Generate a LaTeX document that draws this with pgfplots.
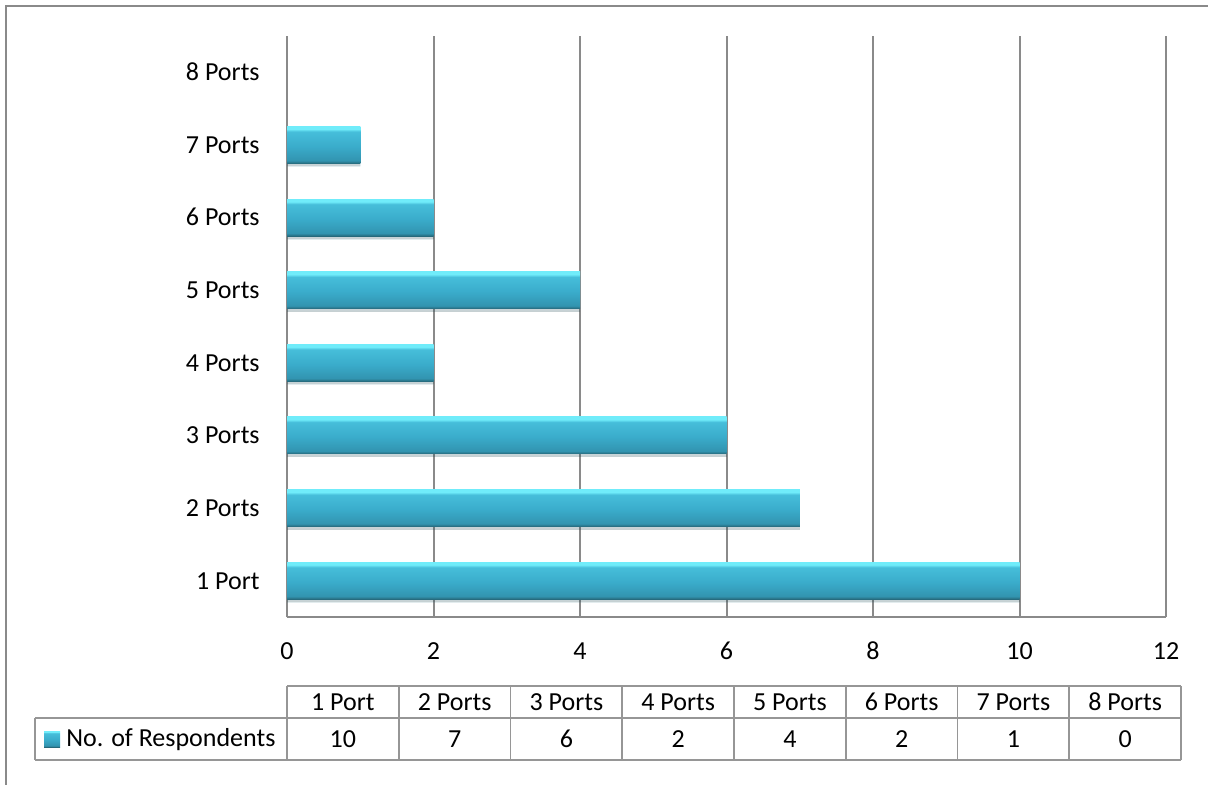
\documentclass[border=0pt]{standalone}
\usepackage{pgfplots}
\usepackage{pgfplotstable}
\usepackage{fontspec}
\setmainfont{Carlito}
\pgfplotsset{compat=1.18}

\definecolor{gridgray}{RGB}{138,138,138}
\definecolor{tablegray}{RGB}{150,150,150}
\definecolor{barlight}{RGB}{112,236,250}
\definecolor{barup}{RGB}{70,190,218}
\definecolor{barmid}{RGB}{58,172,203}
\definecolor{barlow}{RGB}{50,148,176}
\definecolor{bardark}{RGB}{38,104,122}

% bevelled cyan bar: bright top edge, darker bottom edge
% (the visible part of an axis shading runs from 25bp to 75bp)
\pgfdeclareverticalshading{barshade}{100bp}{%
  color(0bp)=(bardark); color(25bp)=(bardark); color(29bp)=(barlow);
  color(48bp)=(barmid); color(68bp)=(barup); color(71.5bp)=(barlight);
  color(100bp)=(barlight)}

\newcommand\chartfont{\fontsize{13}{15.6}\selectfont}

% number of respondents per port count
\pgfplotstableread[col sep=comma]{
idx,label,value
0,1 Port,10
1,2 Ports,7
2,3 Ports,6
3,4 Ports,2
4,5 Ports,4
5,6 Ports,2
6,7 Ports,1
7,8 Ports,0
}\portdata

\begin{document}
\begin{tikzpicture}
\useasboundingbox (0,0) rectangle (604pt,-392.5pt);
% outer frame
\draw[gridgray, line width=1pt] (3pt,-392.5pt) -- (3pt,-3pt) -- (604pt,-3pt);
\begin{axis}[
  at={(143.5pt,-308.5pt)}, anchor=south west,
  scale only axis, width=439.5pt, height=290.5pt,
  xmin=0, xmax=12, ymin=-0.5, ymax=7.5,
  xtick={0,2,...,12}, ytick={0,...,7},
  yticklabels from table={\portdata}{label},
  xmajorgrids, major grid style={gridgray, line width=1pt},
  axis x line*=bottom, axis y line*=left,
  axis line style={gridgray, line width=1pt, -},
  every outer x axis line/.append style={-},
  every outer y axis line/.append style={-},
  major tick length=0pt,
  tick label style={font=\chartfont},
  /pgf/number format/assume math mode=true,
  yticklabel style={anchor=base east, inner sep=0pt, xshift=-13.5pt, yshift=-4.2pt},
  xticklabel style={anchor=base, inner sep=0pt, yshift=-21pt},
  unbounded coords=discard,
  clip=false,
]
% one plot per row so that every bar carries its own shading
\pgfplotsinvokeforeach{0,...,7}{
  \addplot[xbar, bar shift=0pt, bar width=18.5pt, draw=none, forget plot,
    restrict y to domain=#1:#1,
    x filter/.expression={x==0 ? nan : x},
    preaction={fill=black, opacity=0.13, transform canvas={yshift=-1.5pt}},
    shading=barshade]
    table[x=value, y=idx] {\portdata};
}
\end{axis}
% data table below the chart
\begin{scope}[x=0.5pt, y=-0.5pt]
  \draw[tablegray, line width=0.8pt]
    (287,686) -- (1181,686)
    (35,718) -- (1181,718)
    (35,760) -- (1181,760)
    (35,718) -- (35,760);
  \foreach \k in {0,...,8} {
    \draw[tablegray, line width=0.8pt] ({287+111.75*\k},686) -- ({287+111.75*\k},760);
  }
  \foreach \i in {0,...,7} {
    \pgfplotstablegetelem{\i}{label}\of\portdata
    \node[anchor=base, inner sep=0pt, font=\chartfont] at ({287+111.75*(\i+0.5)},710) {\pgfplotsretval};
    \pgfplotstablegetelem{\i}{value}\of\portdata
    \node[anchor=base, inner sep=0pt, font=\chartfont] at ({287+111.75*(\i+0.5)},747) {\pgfplotsretval};
  }
  \shade[shading=barshade] (44,731) rectangle (60,747);
  \node[anchor=base west, inner sep=0pt, font=\chartfont] at (66,746) {No. of Respondents};
\end{scope}
\end{tikzpicture}
\end{document}
